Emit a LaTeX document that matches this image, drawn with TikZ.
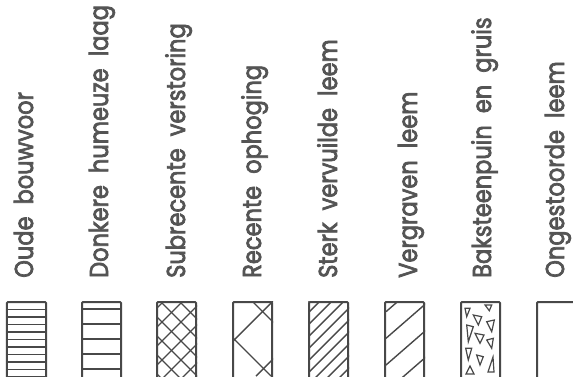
\documentclass[tikz,border=0pt]{standalone}
\usepackage{fontspec}
\setmainfont{Poppins}[FakeBold=3]
\usepackage{xcolor}
\definecolor{inkgray}{RGB}{72,72,72}
\definecolor{textgray}{RGB}{84,84,84}
\usetikzlibrary{positioning}

\begin{document}
\begin{tikzpicture}[x=1bp, y=1bp,
    legtext/.style={anchor=base west, rotate=90, xscale=0.87, inner sep=0pt,
                    text=textgray, font=\fontsize{26}{26}\selectfont},
    legbox/.style={rectangle, draw=inkgray, line width=2bp, rounded corners=1bp,
                   minimum width=39bp, minimum height=84bp, inner sep=0pt},
    hatch/.style={draw=inkgray, line width=1.4bp}
  ]
    % Frame of the page
    \clip (0,0) rectangle (573,376);

    % Labels
    \node[legtext] (t1) at (33,98)  {Oude\ \ bouwvoor};
    \node[legtext] (t2) at (108,98) {Donkere\ \ humeuze\ \ laag};
    \node[legtext] (t3) at (185,98) {Subrecente\ \ verstoring};
    \node[legtext] (t4) at (261,98) {Recente\ \ ophoging};
    \node[legtext] (t5) at (337,98) {Sterk\ \ vervuilde\ \ leem};
    \node[legtext] (t6) at (417,98) {Vergraven\ \ leem};
    \node[legtext] (t7) at (491,98) {Baksteenpuin\ \ en\ \ gruis};
    \node[legtext] (t8) at (564,98) {Ongestoorde\ \ leem};

    % Boxes
    \node[legbox] (b1) at (26.5,32)  {};
    \node[legbox] (b2) at (101.5,32) {};
    \node[legbox] (b3) at (176.5,32) {};
    \node[legbox] (b4) at (252.5,32) {};
    \node[legbox] (b5) at (328.5,32) {};
    \node[legbox] (b6) at (404.5,32) {};
    \node[legbox] (b7) at (480.5,32) {};
    \node[legbox] (b8) at (556.5,32) {};

    % Box 1: dense horizontal lines
    \foreach \y in {66.5,59,...,-2}
      \draw[hatch] (b1.west |- 0,\y) -- (b1.east |- 0,\y);

    % Box 2: wide horizontal lines
    \foreach \y in {67,52,37,22,7}
      \draw[hatch] (b2.west |- 0,\y) -- (b2.east |- 0,\y);

    % Box 3: cross hatching
    \begin{scope}
      \clip (b3.south west) rectangle (b3.north east);
      \foreach \c in {60,79,...,220}
        \draw[hatch] (\c,-10) -- ++(90,90);
      \foreach \c in {150,169,...,310}
        \draw[hatch] (\c,-10) -- ++(-90,90);
    \end{scope}

    % Box 4: wide cross hatching
    \begin{scope}
      \clip (b4.south west) rectangle (b4.north east);
      \draw[hatch] (198,0) -- ++(90,90);
      \draw[hatch] (256,0) -- ++(90,90);
      \draw[hatch] (271,0) -- ++(-90,90);
      \draw[hatch] (327,0) -- ++(-90,90);
    \end{scope}

    % Box 5: dense diagonal lines
    \begin{scope}
      \clip (b5.south west) rectangle (b5.north east);
      \foreach \c in {223,235,...,367}
        \draw[hatch] (\c,-10) -- ++(90,90);
    \end{scope}

    % Box 6: wide diagonal lines
    \begin{scope}
      \clip (b6.south west) rectangle (b6.north east);
      \foreach \y in {91,64.3,37.7,11,-15.7}
        \draw[hatch] (386,\y) -- ++(40,34.8);
    \end{scope}

    % Box 7: brick rubble
    \draw[hatch, line width=1.2bp] (465,67.7) -- (470,67.7) -- (466.7,59.3) -- cycle;
    \draw[hatch, line width=1.2bp] (473.3,61) -- (481.7,59.3) -- (478.3,51) -- cycle;
    \draw[hatch, line width=1.2bp] (485,71) -- (491.7,71) -- (489.3,65.3) -- cycle;
    \draw[hatch, line width=1.2bp] (486.7,54.3) -- (494.3,56) -- (491.7,44.3) -- cycle;
    \draw[hatch, line width=1.2bp] (466.7,51) -- (473.3,49.3) -- (468.3,34.3) -- cycle;
    \draw[hatch, line width=1.2bp] (475,42.7) -- (484,41) -- (480,32.7) -- cycle;
    \draw[hatch, line width=1.2bp] (486.7,36) -- (493.3,37.7) -- (491.7,27.7) -- cycle;
    \draw[hatch, line width=1.2bp] (465.7,27.7) -- (471.7,27.7) -- (468.3,16) -- cycle;
    \draw[hatch, line width=1.2bp] (476.7,21) -- (483.3,19.3) -- (480,11) -- cycle;
    \draw[hatch, line width=1.2bp] (488,4) -- (494,4) -- (493,19) -- cycle;
    \draw[hatch, line width=1.2bp] (466,2) -- (474,2) -- (470,10) -- cycle;

    % Box 8: undisturbed, left empty
  \end{tikzpicture}
\end{document}
